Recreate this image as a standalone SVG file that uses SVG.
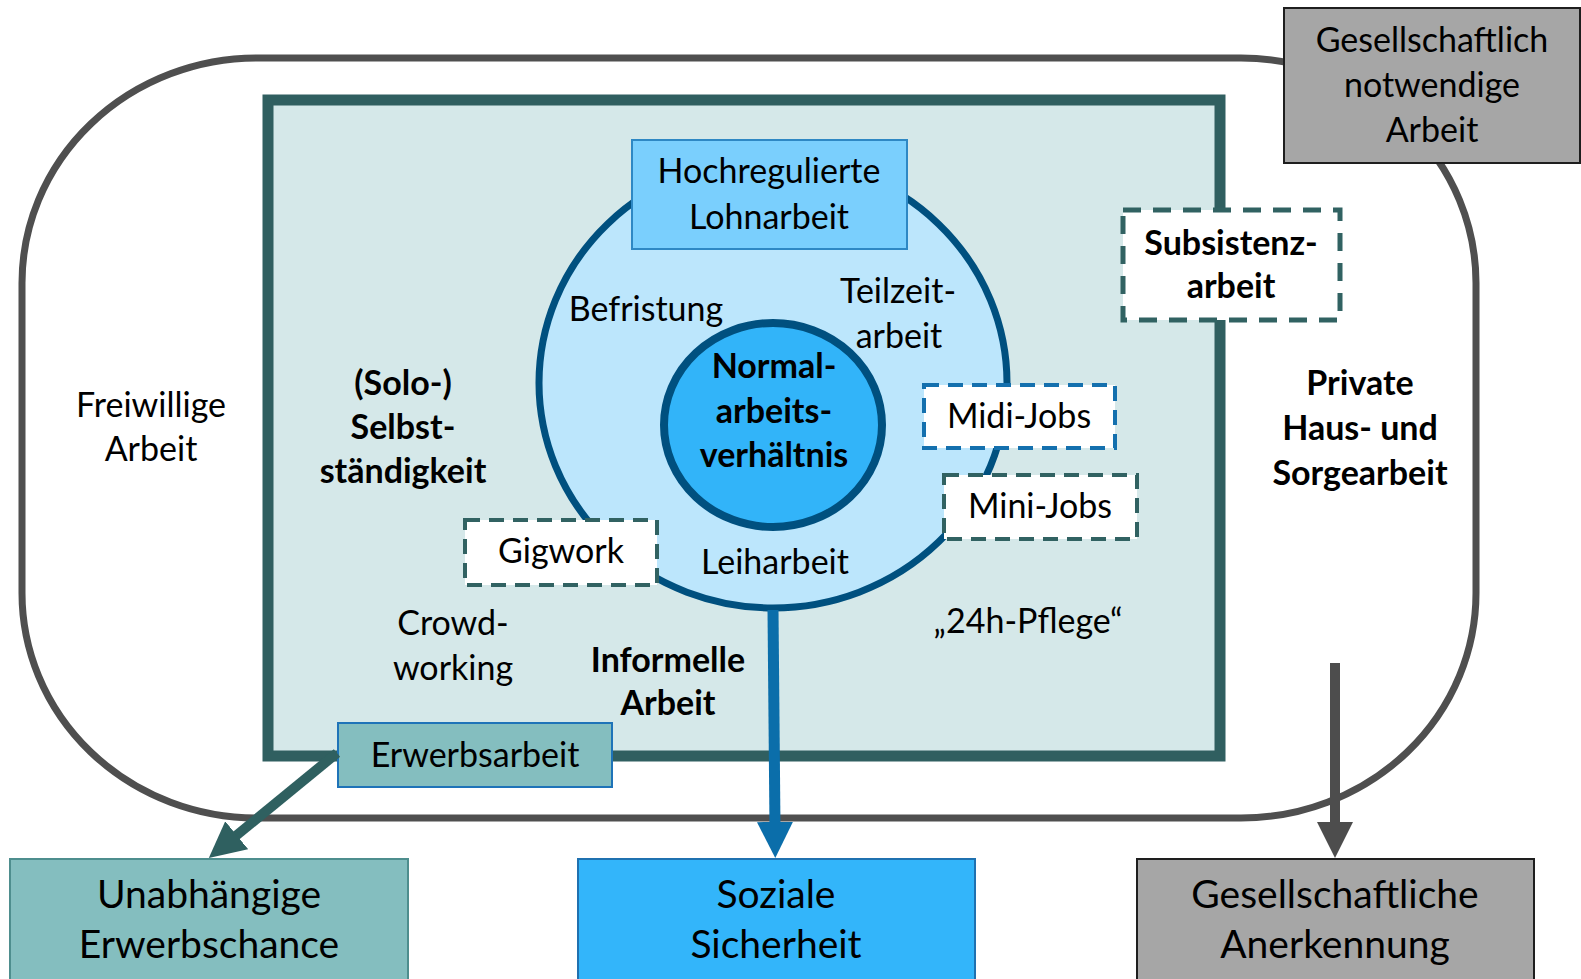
<svg xmlns="http://www.w3.org/2000/svg" width="1581" height="979" viewBox="0 0 1581 979">
<style>
text{font-family:Lato,"Open Sans","Liberation Sans",sans-serif;fill:#000;text-anchor:middle}
.r{font-size:34px}
.b{font-size:34px;font-weight:bold}
.big{font-size:39px}
.dt{fill:#fff;stroke:#316262;stroke-width:4;stroke-dasharray:15 9}
.db{fill:#fff;stroke:#1470AE;stroke-width:4;stroke-dasharray:15 9}
.gray{fill:#A6A6A6;stroke:#1E1E1E;stroke-width:2}
</style>
<defs>
<marker id="mTeal" viewBox="0 0 36 36" refX="6" refY="18" markerWidth="36" markerHeight="36" markerUnits="userSpaceOnUse" orient="auto"><path d="M0,0 L36,18 L0,36 z" fill="#2F6060"/></marker>
<marker id="mBlue" viewBox="0 0 36 36" refX="6" refY="18" markerWidth="36" markerHeight="36" markerUnits="userSpaceOnUse" orient="auto"><path d="M0,0 L36,18 L0,36 z" fill="#0B6EAA"/></marker>
<marker id="mGray" viewBox="0 0 36 36" refX="6" refY="18" markerWidth="36" markerHeight="36" markerUnits="userSpaceOnUse" orient="auto"><path d="M0,0 L36,18 L0,36 z" fill="#4D4D4D"/></marker>
</defs>
<rect width="1581" height="979" fill="#fff"/>

<g id="outer">
<rect x="22" y="58" width="1454" height="760" rx="235" ry="225" fill="#fff" stroke="#4F4F4F" stroke-width="7"/>
<text class="r" x="151" y="417">Freiwillige</text>
<text class="r" x="151" y="461">Arbeit</text>
<text class="b" x="1360" y="395">Private</text>
<text class="b" x="1360" y="440">Haus- und</text>
<text class="b" x="1360" y="485">Sorgearbeit</text>
</g>

<g id="erwerb-area">
<rect x="268" y="100" width="952" height="656" fill="#D5E8E9" stroke="#305F60" stroke-width="11"/>
<text class="b" x="403" y="395">(Solo-)</text>
<text class="b" x="403" y="439">Selbst-</text>
<text class="b" x="403" y="483">ständigkeit</text>
<text class="r" x="453" y="635">Crowd-</text>
<text class="r" x="453" y="680">working</text>
<text class="b" x="668" y="672">Informelle</text>
<text class="b" x="668" y="715">Arbeit</text>
<text class="r" x="1028" y="633">„24h-Pflege“</text>
</g>

<g id="lohnarbeit-circle">
<ellipse cx="773" cy="383" rx="234" ry="225" fill="#BCE6FC" stroke="#00507F" stroke-width="7"/>
<text class="r" x="646" y="321">Befristung</text>
<text class="r" x="898" y="303">Teilzeit-</text>
<text class="r" x="899" y="348">arbeit</text>
<text class="r" x="775" y="574">Leiharbeit</text>
</g>

<g id="normal">
<ellipse cx="773" cy="425" rx="109" ry="102" fill="#32B4F9" stroke="#00507F" stroke-width="8"/>
<text class="b" x="774" y="378">Normal-</text>
<text class="b" x="774" y="423">arbeits-</text>
<text class="b" x="774" y="467">verhältnis</text>
</g>

<g id="hochreguliert">
<rect x="632" y="140" width="275" height="109" fill="#7ACFFD" stroke="#2E88C4" stroke-width="2"/>
<text class="r" x="769" y="183">Hochregulierte</text>
<text class="r" x="769" y="229">Lohnarbeit</text>
</g>

<g id="subsistenz">
<rect x="1123" y="210" width="217" height="110" class="dt" style="stroke-width:5;stroke-dasharray:18 12"/>
<text class="b" x="1231" y="255">Subsistenz-</text>
<text class="b" x="1231" y="298">arbeit</text>
</g>

<g id="midi">
<rect x="924" y="385" width="191" height="63" class="db"/>
<text class="r" x="1019" y="428">Midi-Jobs</text>
</g>

<g id="mini">
<rect x="944" y="475" width="193" height="64" class="dt"/>
<text class="r" x="1040" y="518">Mini-Jobs</text>
</g>

<g id="gigwork">
<rect x="465" y="520" width="192" height="65" class="dt"/>
<text class="r" x="561" y="563">Gigwork</text>
</g>

<g id="erwerbsarbeit">
<rect x="338" y="723" width="274" height="64" fill="#84BEBF" stroke="#1E73B8" stroke-width="2"/>
<text class="r" x="475" y="767">Erwerbsarbeit</text>
</g>

<g id="notwendig">
<rect x="1284" y="8" width="296" height="155" class="gray"/>
<text class="r" x="1432" y="52">Gesellschaftlich</text>
<text class="r" x="1432" y="97">notwendige</text>
<text class="r" x="1432" y="142">Arbeit</text>
</g>

<g id="connectors">
<line x1="337" y1="753" x2="232" y2="839" stroke="#2F6060" stroke-width="10" marker-end="url(#mTeal)"/>
<line x1="773" y1="610" x2="775" y2="828" stroke="#0B6EAA" stroke-width="11" marker-end="url(#mBlue)"/>
<line x1="1335" y1="663" x2="1335" y2="828" stroke="#4D4D4D" stroke-width="10" marker-end="url(#mGray)"/>
</g>

<g id="unabhaengig">
<rect x="10" y="859" width="398" height="130" fill="#84BEBF" stroke="#4E8E8E" stroke-width="2"/>
<text class="big" x="209" y="908">Unabhängige</text>
<text class="big" x="209" y="958">Erwerbschance</text>
</g>

<g id="sozial">
<rect x="578" y="859" width="397" height="130" fill="#33B5FA" stroke="#1F71B0" stroke-width="2"/>
<text class="big" x="776" y="908">Soziale</text>
<text class="big" x="776" y="958">Sicherheit</text>
</g>

<g id="anerkennung">
<rect x="1137" y="859" width="397" height="130" class="gray"/>
<text class="big" x="1335" y="908">Gesellschaftliche</text>
<text class="big" x="1335" y="958">Anerkennung</text>
</g>
</svg>
